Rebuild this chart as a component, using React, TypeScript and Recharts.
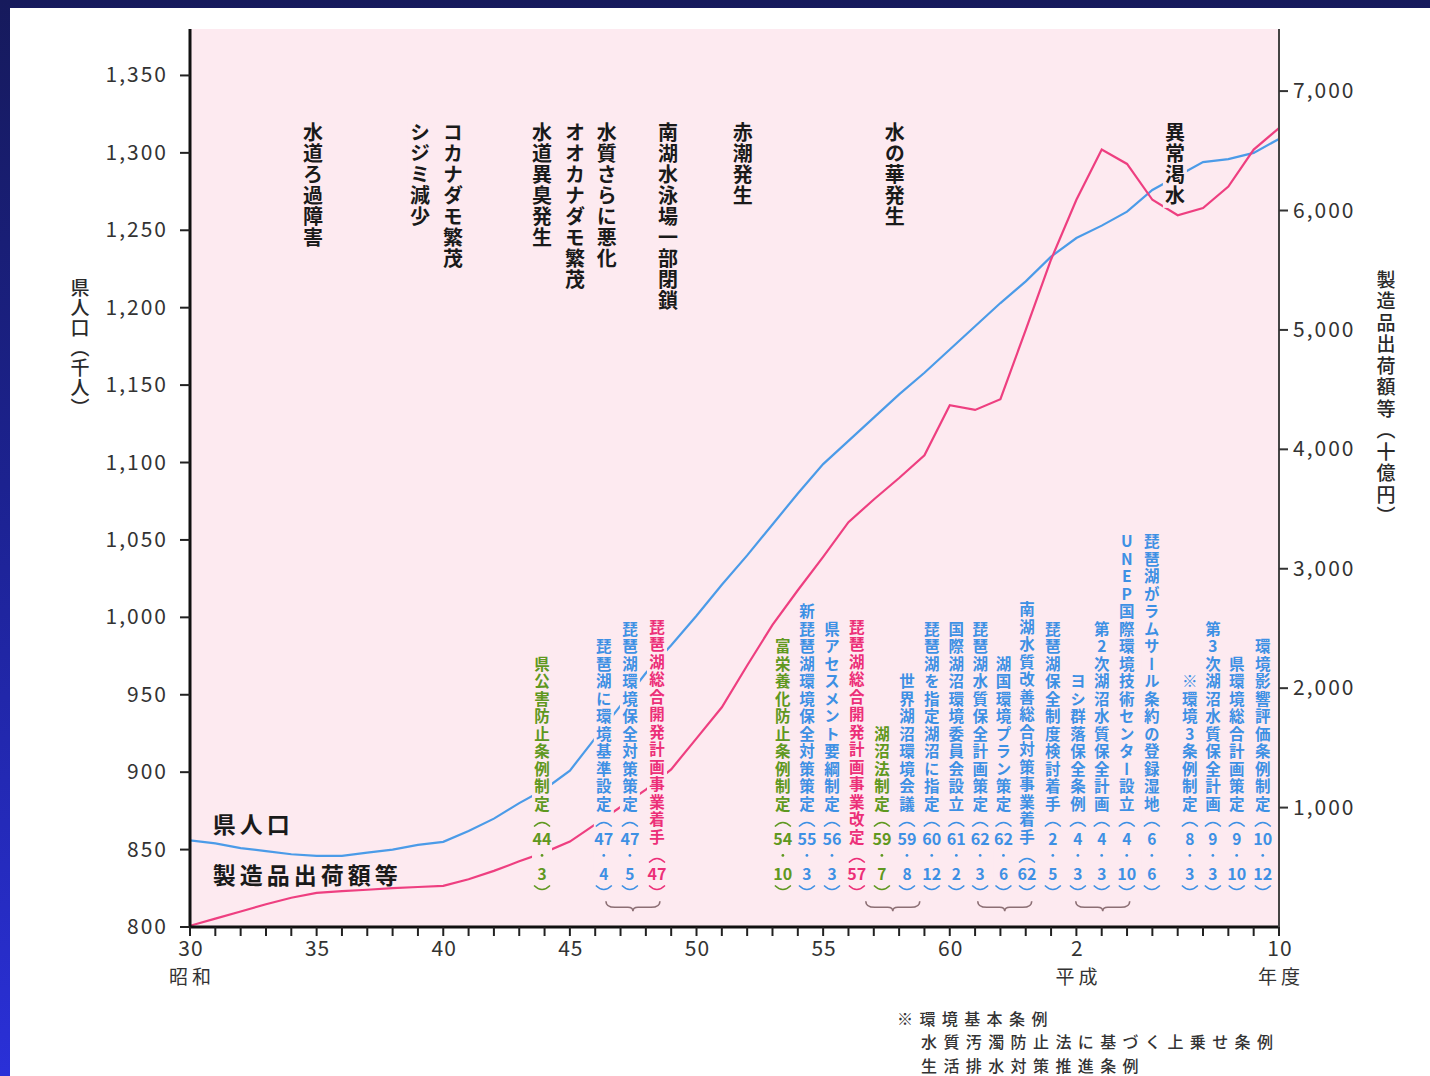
import React from 'react';
import { ComposedChart, Line, XAxis, YAxis, CartesianGrid, ReferenceDot } from 'recharts';

const FONT = "'Noto Sans CJK JP', 'Noto Sans', sans-serif";
const PLOT_BG = '#fdeaf0';

// ---- data (x = 昭和 year; 平成2 = 65, 平成10 = 73) ----
const years = [30, 31, 32, 33, 34, 35, 36, 37, 38, 39, 40, 41, 42, 43, 44, 45, 46, 47, 48, 49, 50, 51, 52, 53, 54, 55, 56, 57, 58, 59, 60, 61, 62, 63, 64, 65, 66, 67, 68, 69, 70, 71, 72, 73];
const population = [856, 854, 851, 849, 847, 846, 846, 848, 850, 853, 855, 862, 870, 880, 889, 901, 922, 943, 964, 982, 1001, 1021, 1040, 1060, 1080, 1099, 1114, 1129, 1144, 1158, 1173, 1188, 1203, 1217, 1233, 1245, 1253, 1262, 1276, 1285, 1294, 1296, 1300, 1309];
const shipments = [10, 70, 130, 190, 245, 285, 300, 312, 325, 335, 345, 400, 470, 550, 625, 715, 860, 1005, 1150, 1320, 1580, 1840, 2190, 2530, 2820, 3100, 3390, 3580, 3760, 3950, 4370, 4330, 4420, 5000, 5590, 6090, 6510, 6390, 6090, 5960, 6020, 6200, 6510, 6690];

const seriesNames = ['県人口', '製造品出荷額等'];

const xTickYears = [30, 35, 40, 45, 50, 55, 60, 65, 73];
const xTickLabels = ['30', '35', '40', '45', '50', '55', '60', '2', '10'];
const xTickEras = ['昭和', '', '', '', '', '', '', '平成', '年度'];
const leftTicks = [800, 850, 900, 950, 1000, 1050, 1100, 1150, 1200, 1250, 1300, 1350];
const rightTicks = [1000, 2000, 3000, 4000, 5000, 6000, 7000];
const leftTitle = '県人口（千人）';
const rightTitle = '製造品出荷額等（十億円）';

// events in the lake (top, black)
const topNoteSlots = [34.86, 39.08, 40.38, 43.9, 45.2, 46.46, 48.87, 51.83, 57.83, 68.89];
const topNoteTexts = ['水道ろ過障害', 'シジミ減少', 'コカナダモ繁茂', '水道異臭発生', 'オオカナダモ繁茂', '水質さらに悪化', '南湖水泳場一部閉鎖', '赤潮発生', '水の華発生', '異常渇水'];

// policy measures (bottom, coloured)
const noteSlots = [43.9, 46.34, 47.37, 48.44, 53.41, 54.36, 55.35, 56.33, 57.32, 58.31, 59.29, 60.26, 61.2, 62.12, 63.05, 64.07, 65.06, 66.0, 66.99, 67.98, 69.48, 70.39, 71.33, 72.36];
const noteTexts = ['県公害防止条例制定', '琵琶湖に環境基準設定', '琵琶湖環境保全対策策定', '琵琶湖総合開発計画事業着手', '富栄養化防止条例制定', '新琵琶湖環境保全対策策定', '県アセスメント要綱制定', '琵琶湖総合開発計画事業改定', '湖沼法制定', '世界湖沼環境会議', '琵琶湖を指定湖沼に指定', '国際湖沼環境委員会設立', '琵琶湖水質保全計画策定', '湖国環境プラン策定', '南湖水質改善総合対策事業着手', '琵琶湖保全制度検討着手', 'ヨシ群落保全条例', '第2次湖沼水質保全計画', 'UNEP国際環境技術センター設立', '琵琶湖がラムサール条約の登録湿地', '※環境3条例制定', '第3次湖沼水質保全計画', '県環境総合計画策定', '環境影響評価条例制定'];
const noteYears = ['44', '47', '47', '47', '54', '55', '56', '57', '59', '59', '60', '61', '62', '62', '62', '2', '4', '4', '4', '6', '8', '9', '9', '10'];
const noteMonths = ['3', '4', '5', '', '10', '3', '3', '', '7', '8', '12', '2', '3', '6', '', '5', '3', '3', '10', '6', '3', '3', '10', '12'];
const noteKinds = ['g', 'b', 'b', 'p', 'g', 'b', 'b', 'p', 'g', 'b', 'b', 'b', 'b', 'b', 'b', 'b', 'b', 'b', 'b', 'b', 'b', 'b', 'b', 'b'];
const braceSlots = [47.49, 57.75, 62.17, 66.04];
const footnotes = ['※環境基本条例', '水質汚濁防止法に基づく上乗せ条例', '生活排水対策推進条例'];

const KIND_COLOR: Record<string, string> = { g: '#5f9820', b: '#3e90e4', p: '#ec2f78' };
const TOP_ANCHOR = 1320; // left-axis value at top of lake-event columns
const NOTE_BASE = 874; // left-axis value at bottom of policy columns
const BRACE_LEVEL = 814;
const LABEL_SLOT = 30.9;
const LABEL_LEVELS = [860.7, 827.8];

// vertical column: one vertical-mode <text> per character
function vColumn(text: string, x: number, top: number, pitch: number, size: number, color: string, weight: number) {
  const chars = [...text];
  return (
    <g>
      {chars.map((ch, i) => (
        <text key={i} x={x} y={top + i * pitch} fontSize={size} fill={color} fontWeight={weight} fontFamily={FONT}
          writingMode="vertical-rl"
          style={{ writingMode: 'vertical-rl', textOrientation: 'upright' } as any}>
          {ch}
        </text>
      ))}
    </g>
  );
}

function TopNote({ cx, cy, idx }: any) {
  const text = topNoteTexts[idx];
  const n = [...text].length;
  const pitch = 21;
  return (
    <g>
      <rect x={cx - 12} y={cy} width={24} height={n * pitch + 2} fill={PLOT_BG} />
      {vColumn(text, cx, cy + 1, pitch, 20, '#1a1a1a', 700)}
    </g>
  );
}

function BottomNote({ cx, cy, idx }: any) {
  const text = noteTexts[idx];
  const n = [...text].length;
  const color = KIND_COLOR[noteKinds[idx]];
  const pitch = 17.5;
  const full = noteMonths[idx] !== '';
  const textBottom = full ? cy : cy + 33;
  const top = textBottom - n * pitch;
  const arcTop = full ? cy + 11 : cy + 47;
  const yearY = full ? cy + 26 : cy + 61;
  const arcBot = cy + 76;
  const num = (s: string, y: number) => (
    <text x={cx} y={y} fontSize={15.5} fill={color} fontFamily={FONT} fontWeight={700} textAnchor="middle"
      dominantBaseline="central" {...(s.length > 1 ? { textLength: 19, lengthAdjust: 'spacingAndGlyphs' } : {})}>{s}</text>
  );
  return (
    <g>
      <rect x={cx - 10} y={top - 2} width={20} height={arcBot + 5 - (top - 2)} fill={PLOT_BG} />
      {vColumn(text, cx, top + 1, pitch, 15.5, color, 700)}
      <path d={`M${cx - 8},${arcTop + 3} Q${cx},${arcTop - 5} ${cx + 8},${arcTop + 3}`} stroke={color} strokeWidth={1.5} fill="none" />
      {num(noteYears[idx], yearY)}
      {full && <circle cx={cx} cy={cy + 43} r={1.4} fill={color} />}
      {full && num(noteMonths[idx], cy + 61)}
      <path d={`M${cx - 8},${arcBot - 3} Q${cx},${arcBot + 5} ${cx + 8},${arcBot - 3}`} stroke={color} strokeWidth={1.5} fill="none" />
    </g>
  );
}

function Brace({ cx, cy }: any) {
  const w = 27;
  const d = `M${cx - w},${cy - 4} Q${cx - w},${cy + 2} ${cx - w + 9},${cy + 2} L${cx - 5},${cy + 2} Q${cx},${cy + 2} ${cx},${cy + 6} Q${cx},${cy + 2} ${cx + 5},${cy + 2} L${cx + w - 9},${cy + 2} Q${cx + w},${cy + 2} ${cx + w},${cy - 4}`;
  return <path d={d} stroke="#8c6f74" strokeWidth={1.6} fill="none" />;
}

function SeriesLabel({ cx, cy, idx }: any) {
  return (
    <text x={cx} y={cy} fontSize={23} letterSpacing={4} fill="#1a1a1a" fontWeight={700} fontFamily={FONT}>
      {seriesNames[idx]}
    </text>
  );
}

const fmt = (v: number) => v.toLocaleString('en-US');

const LeftTick = ({ x, y, payload }: any) => (
  <text x={x} y={y} dy={7} textAnchor="end" fontSize={21} letterSpacing={2} fill="#333" fontFamily={FONT}>{fmt(payload.value)}</text>
);
const RightTick = ({ x, y, payload }: any) => (
  <text x={x} y={y} dy={7} textAnchor="start" fontSize={21} letterSpacing={2} fill="#333" fontFamily={FONT}>{fmt(payload.value)}</text>
);
const XTick = ({ x, y, payload }: any) => {
  const i = xTickYears.indexOf(payload.value);
  if (i < 0) return <g />;
  return (
    <g>
      <text x={x + 1} y={y + 18} textAnchor="middle" fontSize={21} letterSpacing={1} fill="#333" fontFamily={FONT}>{xTickLabels[i]}</text>
      {xTickEras[i] && (
        <text x={x + 2} y={y + 46} textAnchor="middle" fontSize={19} letterSpacing={4} fill="#333" fontFamily={FONT}>{xTickEras[i]}</text>
      )}
    </g>
  );
};

const verticalTitle = (title: string, dx: number, dy: number, pitch: number) => (p: any) => {
  const vb = p.viewBox || { x: 0, y: 0 };
  return vColumn(title, vb.x + dx, vb.y + dy - pitch / 2, pitch, 19, '#2a2a2a', 500);
};

export default function App() {
  const data = years.map((y, i) => ({ year: y, pop: population[i], mfg: shipments[i] }));
  return (
    <div style={{ position: 'absolute', left: 0, top: 0, width: 1430, height: 1076, overflow: 'hidden',
      background: 'linear-gradient(180deg, #161a5c 0%, #1c2290 45%, #2a30d8 100%)' }}>
      <div style={{ position: 'absolute', left: 10, top: 8, right: 0, bottom: 0, background: '#ffffff' }} />
      <div style={{ position: 'absolute', left: 0, top: 0 }}>
        <ComposedChart width={1430} height={1076} data={data} margin={{ top: 29, right: 51, bottom: 89, left: 110 }}>
          <CartesianGrid fill={PLOT_BG} fillOpacity={1} horizontal={false} vertical={false} stroke="none" />
          <XAxis dataKey="year" type="number" domain={[30, 73]} ticks={years} interval={0} height={60}
            tick={<XTick />} tickSize={9} tickLine={{ stroke: '#222', strokeWidth: 2 }}
            axisLine={{ stroke: '#111', strokeWidth: 3 }} allowDataOverflow />
          <YAxis yAxisId="left" orientation="left" width={80} domain={[800, 1380]} ticks={leftTicks} interval={0}
            tick={<LeftTick />} tickSize={10} tickMargin={12} tickLine={{ stroke: '#222', strokeWidth: 2 }}
            axisLine={{ stroke: '#111', strokeWidth: 3 }} allowDataOverflow
            label={verticalTitle(leftTitle, -30, 259, 20)} />
          <YAxis yAxisId="right" orientation="right" width={100} domain={[0, 7520]} ticks={rightTicks} interval={0}
            tick={<RightTick />} tickSize={9} tickMargin={5} tickLine={{ stroke: '#333', strokeWidth: 2 }}
            axisLine={{ stroke: '#444', strokeWidth: 2 }} allowDataOverflow
            label={verticalTitle(rightTitle, 107, 252, 21.5)} />
          <Line yAxisId="left" type="linear" dataKey="pop" stroke="#4b9be8" strokeWidth={2.2} dot={false} isAnimationActive={false} />
          <Line yAxisId="right" type="linear" dataKey="mfg" stroke="#ee3f80" strokeWidth={2.2} dot={false} isAnimationActive={false} />
          {topNoteSlots.map((s, i) => (
            <ReferenceDot key={'tn' + i} yAxisId="left" x={s} y={TOP_ANCHOR} ifOverflow="visible"
              shape={(p: any) => <TopNote cx={p.cx} cy={p.cy} idx={i} />} />
          ))}
          {noteSlots.map((s, i) => (
            <ReferenceDot key={'bn' + i} yAxisId="left" x={s} y={NOTE_BASE} ifOverflow="visible"
              shape={(p: any) => <BottomNote cx={p.cx} cy={p.cy} idx={i} />} />
          ))}
          {braceSlots.map((s, i) => (
            <ReferenceDot key={'br' + i} yAxisId="left" x={s} y={BRACE_LEVEL} ifOverflow="visible"
              shape={(p: any) => <Brace cx={p.cx} cy={p.cy} />} />
          ))}
          {LABEL_LEVELS.map((lv, i) => (
            <ReferenceDot key={'sl' + i} yAxisId="left" x={LABEL_SLOT} y={lv} ifOverflow="visible"
              shape={(p: any) => <SeriesLabel cx={p.cx} cy={p.cy} idx={i} />} />
          ))}
        </ComposedChart>
      </div>
      <svg style={{ position: 'absolute', left: 0, top: 0, pointerEvents: 'none' }} width={1430} height={1076}>
        {footnotes.map((f, i) => (
          <text key={i} x={i === 0 ? 897 : 921} y={1025 + i * 23.3} fontSize={16} letterSpacing={6.4} fill="#333" fontWeight={500} fontFamily={FONT}>{f}</text>
        ))}
      </svg>
    </div>
  );
}
